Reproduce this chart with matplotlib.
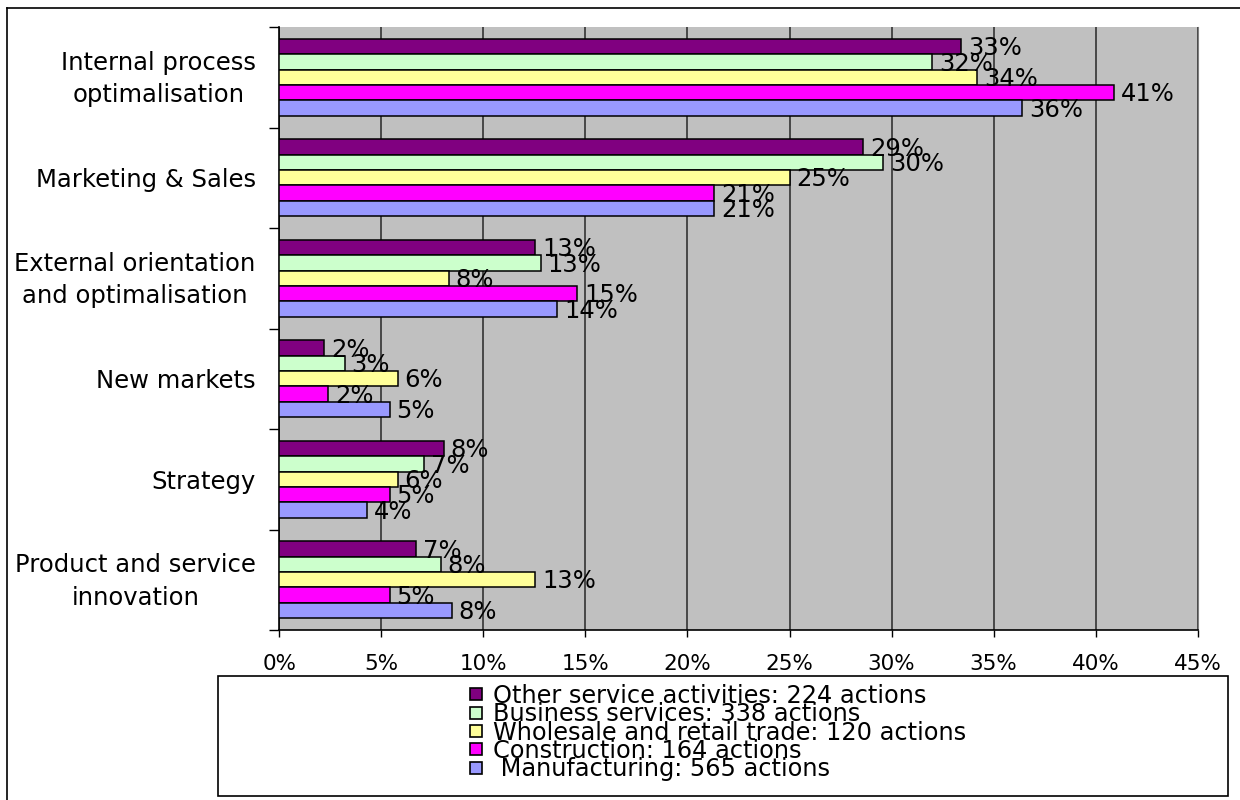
import numpy as np
import matplotlib
matplotlib.use("Agg")
import matplotlib.pyplot as plt
from matplotlib.patches import Rectangle
from matplotlib.lines import Line2D
from matplotlib.ticker import PercentFormatter
from matplotlib.transforms import ScaledTranslation

# ---- data (share of actions per theme, %) ----
categories = [
    "Internal process\noptimalisation",
    "Marketing & Sales",
    "External orientation\nand optimalisation",
    "New markets",
    "Strategy",
    "Product and service\ninnovation",
]

series_labels = [
    "Other service activities: 224 actions",
    "Business services: 338 actions",
    "Wholesale and retail trade: 120 actions",
    "Construction: 164 actions",
    " Manufacturing: 565 actions",
]
series_colors = ["#800080", "#CCFFCC", "#FFFF99", "#FF00FF", "#9999FF"]

other_services = [33.4, 28.6, 12.55, 2.2, 8.05, 6.7]
business_services = [32.0, 29.6, 12.8, 3.2, 7.1, 7.9]
wholesale_retail = [34.2, 25.0, 8.3, 5.8, 5.8, 12.55]
construction = [40.9, 21.3, 14.6, 2.4, 5.4, 5.4]
manufacturing = [36.4, 21.3, 13.6, 5.4, 4.3, 8.45]

series_values = [other_services, business_services, wholesale_retail,
                 construction, manufacturing]

x_ticks = np.arange(0, 46, 5)

# ---- figure ----
W, H = 1240, 800
fig = plt.figure(figsize=(W / 100, H / 100), dpi=100)
plt.rcParams['font.family'] = ['DejaVu Sans']

def fx(px):
    return px / W

def fy(py):
    return 1 - py / H

left, right, top, bottom = 279.3, 1197.7, 27, 630
ax = fig.add_axes([fx(left), fy(bottom), fx(right - left), (bottom - top) / H])
ax.set_facecolor("#C0C0C0")

n_cat = len(categories)
n_ser = len(series_values)
bar_h = 0.153
y_pos = np.arange(n_cat)

for j, (vals, col) in enumerate(zip(series_values, series_colors)):
    offs = (j - (n_ser - 1) / 2) * bar_h
    ax.barh(y_pos + offs, vals, height=bar_h, color=col,
            edgecolor="black", linewidth=1.1, zorder=3)
    for y, v in zip(y_pos + offs, vals):
        ax.annotate(f"{v:.0f}%", xy=(v, y), xytext=(7, -8.7),
                    textcoords="offset pixels", ha="left", va="baseline",
                    fontsize=17.5, color="black", zorder=4)

ax.set_xlim(0, 45)
ax.set_ylim(n_cat - 0.5, -0.5)

ax.set_xticks(x_ticks)
ax.xaxis.set_major_formatter(PercentFormatter(xmax=100, decimals=0))
ax.tick_params(axis="x", direction="out", length=5, width=1, pad=12,
               labelsize=15.5)
ax.grid(axis="x", color="#333333", linewidth=1.2, zorder=1)
ax.set_axisbelow(True)

ax.set_yticks(y_pos, labels=categories)
ax.tick_params(axis="y", which="major", length=0, pad=17, labelsize=17.5)
lift = ScaledTranslation(0, 0.05, fig.dpi_scale_trans)
for t in ax.get_yticklabels():
    t.set_multialignment("center")
    t.set_linespacing(1.45)
    if "\n" in t.get_text():
        t.set_transform(t.get_transform() + lift)
ax.set_yticks(np.arange(n_cat + 1) - 0.5, minor=True)
ax.tick_params(axis="y", which="minor", direction="out", length=7, width=1)

ax.spines["top"].set_visible(False)
ax.spines["right"].set_color("#7f7f7f")
ax.spines["left"].set_color("black")
ax.spines["left"].set_linewidth(1.2)
ax.spines["bottom"].set_color("black")
ax.spines["bottom"].set_linewidth(1.2)

# ---- outer chart border (left and top edges) ----
fig.add_artist(Line2D([fx(7), fx(7)], [0, fy(8)], color="black", lw=1.2))
fig.add_artist(Line2D([fx(7), 1], [fy(8), fy(8)], color="black", lw=1.2))

# ---- legend box ----
lx0, lx1, ly0, ly1 = 218, 1228, 676, 796
fig.add_artist(Rectangle((fx(lx0), fy(ly1)), fx(lx1 - lx0), (ly1 - ly0) / H,
                         facecolor="white", edgecolor="black", lw=1.2))
row0, row_step = 694.3, 18.35
for i, (lab, col) in enumerate(zip(series_labels, series_colors)):
    cy = row0 + i * row_step
    fig.add_artist(Rectangle((fx(470), fy(cy + 6)), fx(12), 12 / H,
                             facecolor=col, edgecolor="black", lw=1.2))
    fig.text(fx(493), fy(cy + 8.5), lab, fontsize=17.3, ha="left",
             va="baseline", color="black")

fig.savefig("out.png", dpi=100, facecolor="white")
